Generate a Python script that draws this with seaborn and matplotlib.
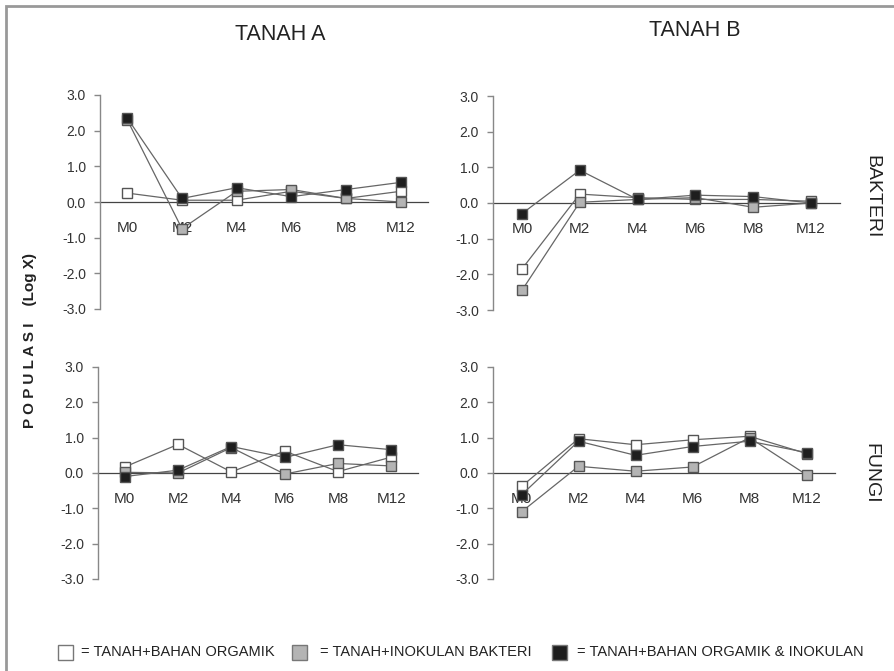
import matplotlib
matplotlib.use("Agg")
import matplotlib.pyplot as plt
from matplotlib.patches import Rectangle
import seaborn as sns
import pandas as pd

months = ["M0", "M2", "M4", "M6", "M8", "M12"]
yticks = [3.0, 2.0, 1.0, 0.0, -1.0, -2.0, -3.0]
series_names = ["TANAH+BAHAN ORGAMIK", "TANAH+INOKULAN BAKTERI", "TANAH+BAHAN ORGAMIK & INOKULAN"]

# Bakteri, Tanah A
bak_a_white = [0.25, 0.05, 0.05, 0.30, 0.10, 0.30]
bak_a_gray = [2.30, -0.75, 0.30, 0.35, 0.10, 0.00]
bak_a_black = [2.35, 0.10, 0.40, 0.15, 0.35, 0.55]
# Bakteri, Tanah B
bak_b_white = [-1.85, 0.25, 0.15, 0.10, 0.10, 0.05]
bak_b_gray = [-2.45, 0.02, 0.10, 0.15, -0.12, 0.00]
bak_b_black = [-0.30, 0.92, 0.10, 0.22, 0.18, 0.00]
# Fungi, Tanah A
fun_a_white = [0.17, 0.81, 0.03, 0.62, 0.04, 0.45]
fun_a_gray = [0.02, 0.00, 0.72, -0.03, 0.27, 0.20]
fun_a_black = [-0.10, 0.08, 0.75, 0.44, 0.80, 0.66]
# Fungi, Tanah B
fun_b_white = [-0.38, 0.97, 0.80, 0.94, 1.04, 0.55]
fun_b_gray = [-1.10, 0.19, 0.05, 0.17, 1.00, -0.05]
fun_b_black = [-0.62, 0.90, 0.50, 0.75, 0.90, 0.58]

sns.set_style("white")
plt.rcParams["font.family"] = ["Liberation Sans", "DejaVu Sans"]

W, H = 895, 671
fig = plt.figure(figsize=(W / 100, H / 100), dpi=100)

def px_axes(x0, x1, y0, y1):
    return fig.add_axes([x0 / W, 1 - y1 / H, (x1 - x0) / W, (y1 - y0) / H])

face_colors = ["#ffffff", "#b4b4b4", "#1e1e1e"]
edge_color = "#555555"
line_color = "#666666"

panels = [
    ((100, 428, 95, 309), [bak_a_white, bak_a_gray, bak_a_black]),
    ((493, 840, 96, 310), [bak_b_white, bak_b_gray, bak_b_black]),
    ((98, 418, 367, 579), [fun_a_white, fun_a_gray, fun_a_black]),
    ((493, 835, 367, 579), [fun_b_white, fun_b_gray, fun_b_black]),
]

for (x0, x1, y0, y1), data in panels:
    ax = px_axes(x0, x1, y0, y1)
    for name, vals, fc in zip(series_names, data, face_colors):
        df = pd.DataFrame({"month": months, "value": vals})
        sns.lineplot(data=df, x="month", y="value", sort=False, ax=ax,
                     color=line_color, linewidth=0.9, marker="s",
                     markersize=7.5, markerfacecolor=fc,
                     markeredgecolor=edge_color, markeredgewidth=1.0,
                     legend=False)
    ax.set_xlim(-0.5, 5.5)
    ax.set_ylim(-3, 3)
    ax.set_xlabel("")
    ax.set_ylabel("")
    ax.set_facecolor("none")
    ax.set_yticks(yticks)
    ax.set_yticklabels([f"{v:.1f}" for v in yticks], fontsize=10, color="#333333")
    ax.spines["top"].set_visible(False)
    ax.spines["right"].set_visible(False)
    ax.spines["left"].set_color("#888888")
    ax.spines["left"].set_linewidth(1.0)
    ax.spines["bottom"].set_position(("data", 0))
    ax.spines["bottom"].set_color("#444444")
    ax.spines["bottom"].set_linewidth(0.9)
    ax.spines["bottom"].set_zorder(0)
    ax.tick_params(axis="y", direction="out", length=4, width=1, color="#888888", pad=6, left=True)
    ax.tick_params(axis="x", length=0, pad=14, labelsize=11, labelcolor="#333333")

fig.text(280 / W, 1 - 34 / H, "TANAH A", ha="center", va="center", fontsize=15.5, color="#222222")
fig.text(695 / W, 1 - 31 / H, "TANAH B", ha="center", va="center", fontsize=15.5, color="#222222")
fig.text(872 / W, 1 - 197 / H, "BAKTERI", ha="center", va="center", rotation=-90, fontsize=14, color="#222222")
fig.text(871 / W, 1 - 473 / H, "FUNGI", ha="center", va="center", rotation=-90, fontsize=14, color="#222222")
fig.text(30 / W, 1 - 341 / H, "P O P U L A S I    (Log X)", ha="center", va="center",
         rotation=90, fontsize=11, fontweight="bold", color="#222222")

# legend
leg_y = 652
sq = 15
legend_items = [(58, 81), (292, 320), (552, 577)]
for (sx, tx), name, fc in zip(legend_items, series_names, face_colors):
    fig.patches.append(Rectangle((sx / W, 1 - (leg_y + sq / 2) / H), sq / W, sq / H,
                                 transform=fig.transFigure, facecolor=fc,
                                 edgecolor="#777777", linewidth=1.0))
    fig.text(tx / W, 1 - leg_y / H, "= " + name, ha="left", va="center",
             fontsize=10.5, color="#222222")

# frame
fig.patches.append(Rectangle((6 / W, -0.1), 1.2, 1 - 6 / H + 0.1, transform=fig.transFigure,
                             facecolor="none", edgecolor="#999999", linewidth=2))

fig.savefig("out.png", dpi=100)
